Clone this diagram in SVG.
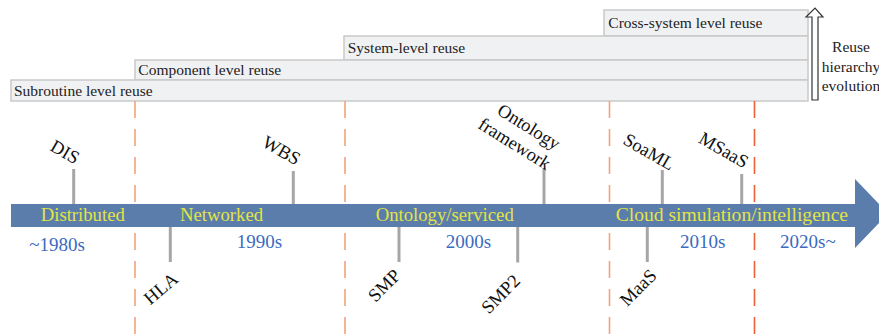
<svg xmlns="http://www.w3.org/2000/svg" width="879" height="335" viewBox="0 0 879 335">
<style>
text{font-family:"Liberation Serif","Times New Roman",serif}
.box{fill:#f0f1f3;stroke:#c9c9c9;stroke-width:1.5}
.bt{font-size:15.5px;fill:#222}
.band{font-size:18.7px;fill:#e4e445}
.dec{font-size:19px;fill:#3a6bbf}
.lbl{font-size:18.5px;fill:#111}
.tick{stroke:#a6a6a6;stroke-width:3}
.dl{stroke:#f5a27c;stroke-width:1.6;stroke-dasharray:17 11;fill:none}
.dd{stroke:#ec6237;stroke-width:1.6;stroke-dasharray:17 11;fill:none}
</style>
<g id="reuse-levels">
<g id="cross-system"><rect class="box" x="604" y="10" width="204" height="26"/><text class="bt" x="608.3" y="27.7">Cross-system level  reuse</text></g>
<g id="system-level"><rect class="box" x="344" y="36" width="464" height="24"/><text class="bt" x="347.7" y="53.3">System-level reuse</text></g>
<g id="component-level"><rect class="box" x="135" y="60" width="673" height="20"/><text class="bt" x="138.3" y="75">Component level reuse</text></g>
<g id="subroutine-level"><rect class="box" x="11" y="80" width="797" height="21"/><text class="bt" x="14" y="95.7">Subroutine level reuse</text></g>
</g>
<g id="hierarchy-arrow">
<path d="M812,100 V17 H806 L815,8 L823,17 H818 V100 Z" fill="#fff" stroke="#333" stroke-width="1.2"/>
<text class="bt" text-anchor="middle"><tspan x="851" y="52">Reuse</tspan><tspan x="851" y="71.5">hierarchy</tspan><tspan x="851" y="91">evolution</tspan></text>
</g>
<g id="connectors">
<line class="dl" x1="135" y1="101" x2="135" y2="204"/>
<line class="dl" x1="135" y1="233" x2="135" y2="335"/>
<line class="dl" x1="345" y1="101" x2="345" y2="204"/>
<line class="dl" x1="345" y1="233" x2="345" y2="335"/>
<line class="dl" x1="609.5" y1="101" x2="609.5" y2="204"/>
<line class="dl" x1="609.5" y1="233" x2="609.5" y2="335"/>
<line class="dd" x1="754.5" y1="101" x2="754.5" y2="204"/>
<line class="dd" x1="754.5" y1="233" x2="754.5" y2="335"/>
<line class="tick" x1="73.7" y1="169" x2="73.7" y2="205"/>
<line class="tick" x1="293.3" y1="171" x2="293.3" y2="205"/>
<line class="tick" x1="544" y1="168" x2="544" y2="206"/>
<line class="tick" x1="662.3" y1="170" x2="662.3" y2="206"/>
<line class="tick" x1="741.7" y1="174" x2="741.7" y2="206"/>
<line class="tick" x1="170.3" y1="226" x2="170.3" y2="262"/>
<line class="tick" x1="399" y1="226" x2="399" y2="262"/>
<line class="tick" x1="517.7" y1="226" x2="517.7" y2="262.5"/>
<line class="tick" x1="647.3" y1="226" x2="647.3" y2="262"/>
</g>
<g id="timeline">
<path d="M11,204 H855 V179 L888,213.5 L855,248 V227 H11 Z" fill="#5a7dab"/>
<text class="band" x="40.7" y="220.7">Distributed</text>
<text class="band" x="180" y="220.7">Networked</text>
<text class="band" x="375.7" y="220.7">Ontology/serviced</text>
<text class="band" x="615.7" y="221.2" style="font-size:19.6px">Cloud simulation/intelligence</text>
</g>
<g id="decades">
<text class="dec" x="29.3" y="250.7">~1980s</text>
<text class="dec" x="236.7" y="247.5">1990s</text>
<text class="dec" x="445.7" y="247.7">2000s</text>
<text class="dec" x="680" y="247.7">2010s</text>
<text class="dec" x="780" y="247.7">2020s~</text>
</g>
<g id="labels-above">
<text class="lbl" text-anchor="end" transform="translate(74.8,164.7) rotate(30)">DIS</text>
<text class="lbl" text-anchor="end" transform="translate(295.8,165.7) rotate(30)">WBS</text>
<g transform="translate(511.5,149) rotate(32)"><text class="lbl" x="0" y="0" text-anchor="middle">framework</text><text class="lbl" x="3" y="-22" text-anchor="middle">Ontology</text></g>
<text class="lbl" text-anchor="end" transform="translate(670,171) rotate(30)">SoaML</text>
<text class="lbl" text-anchor="end" transform="translate(743.8,168.7) rotate(30)">MSaaS</text>
</g>
<g id="labels-below">
<text class="lbl" text-anchor="end" transform="translate(179.5,281) rotate(-40)">HLA</text>
<text class="lbl" text-anchor="end" transform="translate(401.7,276.7) rotate(-45)">SMP</text>
<text class="lbl" text-anchor="end" transform="translate(521.4,282) rotate(-45)">SMP2</text>
<text class="lbl" text-anchor="end" transform="translate(657.7,276.7) rotate(-45)">MaaS</text>
</g>
</svg>
